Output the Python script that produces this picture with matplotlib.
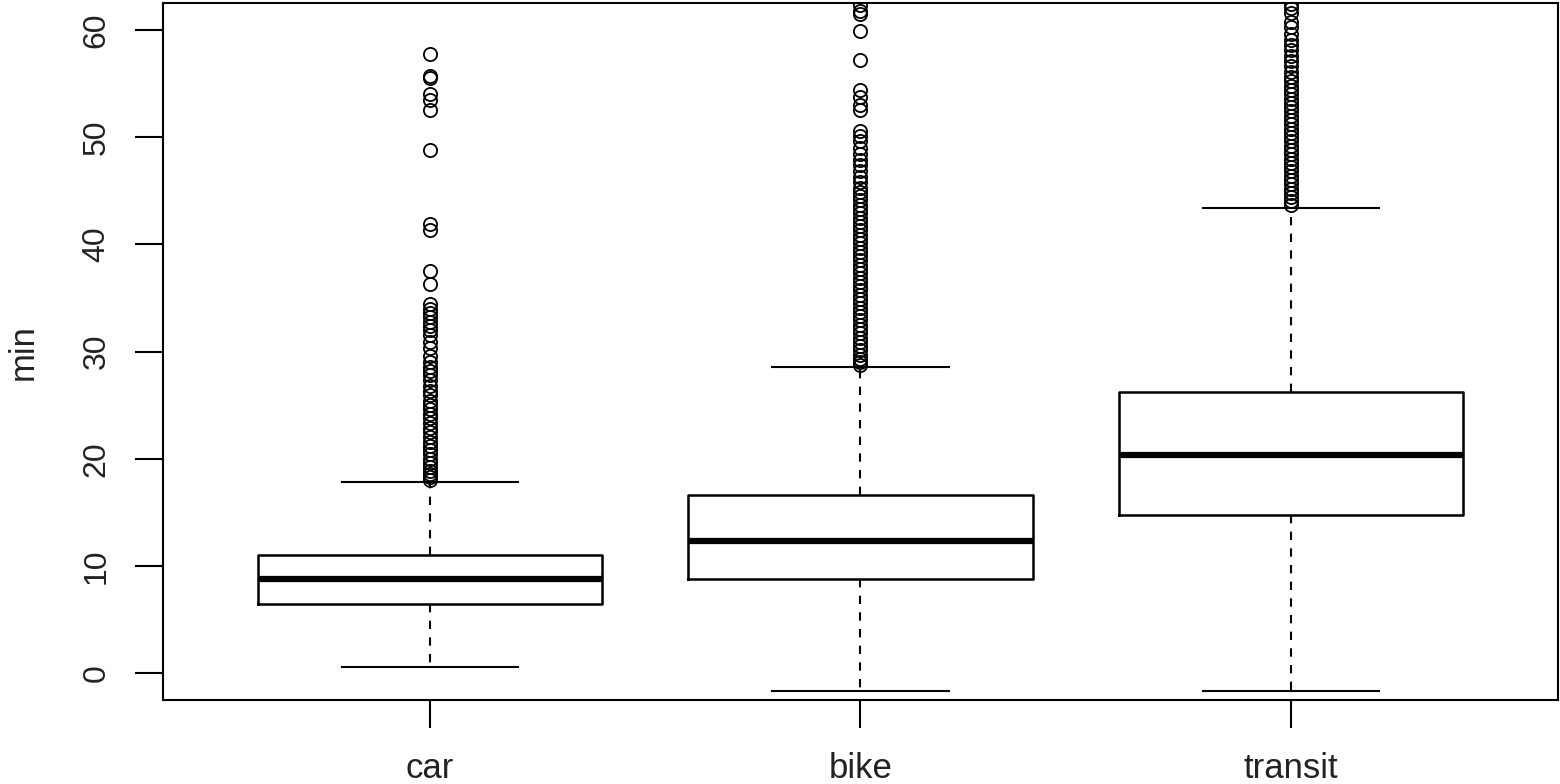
import matplotlib
matplotlib.use("Agg")
from matplotlib import pyplot as plt

plt.rcParams['font.family'] = ['Liberation Sans', 'DejaVu Sans']

# summary stats
modes = ["car", "bike", "transit"]
q1 = [6.45, 8.75, 14.75]
med = [8.8, 12.3, 20.35]
q3 = [11.05, 16.6, 26.2]
whislo = [0.55, -1.7, -1.7]
whishi = [17.85, 28.55, 43.35]

car_out = [57.8, 55.7, 55.5, 54.0, 53.5, 52.5, 48.8, 41.9, 41.3, 37.5, 36.3,
           34.4, 34.0, 33.6, 33.2, 32.8, 32.4, 32.0, 31.5, 30.9, 30.3, 29.6,
           29.0, 28.6, 28.2, 27.8, 27.3, 26.8, 26.3, 25.9, 25.4, 25.0, 24.6,
           24.2, 23.8, 23.3, 22.9, 22.5, 22.0, 21.6, 21.2, 20.8, 20.4, 20.0,
           19.6, 19.2, 18.9, 18.6, 18.3, 18.0]
bike_out = [62.3, 61.8, 61.5, 59.9, 57.2, 54.4, 53.7, 53.0, 52.5, 50.6, 50.1,
            49.6, 49.0, 48.4, 47.9, 47.4, 46.8, 46.3, 45.8, 45.3, 44.9, 44.5,
            44.1, 43.7, 43.3, 42.9, 42.5, 42.1, 41.7, 41.3, 40.9, 40.5, 40.1,
            39.7, 39.3, 38.9, 38.5, 38.1, 37.7, 37.3, 36.9, 36.5, 36.1, 35.7,
            35.3, 34.9, 34.5, 34.1, 33.7, 33.3, 32.9, 32.5, 32.1, 31.7, 31.3,
            30.9, 30.5, 30.1, 29.7, 29.3, 29.0, 28.7]
transit_out = [62.4, 62.0, 61.6, 60.7, 60.3, 59.6, 59.1, 58.6, 58.1, 57.6,
               57.1, 56.6, 56.1, 55.6, 55.2, 54.8, 54.4, 54.0, 53.6, 53.2,
               52.8, 52.4, 52.0, 51.6, 51.2, 50.8, 50.4, 50.0, 49.6, 49.2,
               48.8, 48.4, 48.0, 47.6, 47.2, 46.8, 46.4, 46.0, 45.6, 45.2,
               44.8, 44.4, 44.0, 43.7]
outliers = [car_out, bike_out, transit_out]

stats = []
for i in range(len(modes)):
	stats.append(dict(label=modes[i], q1=q1[i], med=med[i], q3=q3[i],
	                  whislo=whislo[i], whishi=whishi[i], fliers=outliers[i]))

fig = plt.figure(figsize=(15.6, 7.84), dpi=100)
ax = fig.add_axes([0.1045, 0.107, 0.894, 0.889])

ax.bxp(stats, positions=[1, 2, 3], widths=0.8, capwidths=0.41,
       boxprops=dict(color="black", linewidth=1.8),
       medianprops=dict(color="black", linewidth=4.5, solid_capstyle="butt"),
       whiskerprops=dict(color="black", linewidth=1.5, linestyle=(0, (4, 4))),
       capprops=dict(color="black", linewidth=1.5),
       flierprops=dict(marker="o", markerfacecolor="none", markeredgecolor="black",
                       markersize=9.5, markeredgewidth=1.3, linestyle="none"))

ax.set_xlim(0.38, 3.62)
ax.set_ylim(-2.52, 62.5)

ax.set_yticks(range(0, 61, 10))
ax.set_yticklabels([str(v) for v in range(0, 61, 10)], rotation=90, va="center",
                   fontsize=23, color="#222222")
ax.set_xticks([1, 2, 3])
ax.set_xticklabels(modes, fontsize=25, color="#222222")
ax.tick_params(axis="both", length=20, width=1.5, direction="out")
ax.tick_params(axis="y", pad=17)
ax.tick_params(axis="x", pad=17)

for s in ax.spines.values():
	s.set_linewidth(1.5)

ax.set_ylabel("min", fontsize=25, color="#222222", labelpad=30)

fig.savefig("out.png", dpi=100)
